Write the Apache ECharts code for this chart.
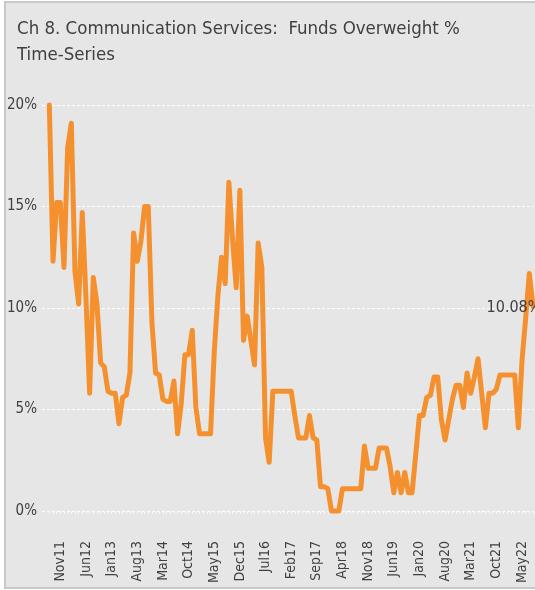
<!DOCTYPE html>
<html>
<head>
<meta charset="utf-8">
<script src="https://cdn.jsdelivr.net/npm/echarts@6/dist/echarts.min.js"></script>
<style>
  html, body { margin: 0; padding: 0; background: #ffffff; }
  #frame {
    position: absolute; left: 4px; top: 1px; width: 540px; height: 584px;
    background: #e6e6e6; border: 2px solid #c8c8c8;
  }
  #chart { position: absolute; left: 0; top: 0; width: 535px; height: 590px; }
</style>
</head>
<body>
<div id="frame"></div>
<div id="chart"></div>
<script>
// Monthly axis, Jun 2011 .. Aug 2022 (first two months are lead-in space before the data)
const monthNames = ['Jan','Feb','Mar','Apr','May','Jun','Jul','Aug','Sep','Oct','Nov','Dec'];
const categories = [];
for (let y = 2011, m = 5; y < 2022 || (y === 2022 && m <= 7); ) {
  categories.push(monthNames[m] + String(y).slice(2));
  m++; if (m === 12) { m = 0; y++; }
}
const leadIn = 2;           // Jun11, Jul11 carry no value
const firstLabel = 'Nov11'; // labels every 7 months from here
const labelStep = 7;

// Funds overweight %, Aug 2011 .. Aug 2022
const overweightPct = [
  20.0, 12.3, 15.2, 15.2, 12.0, 17.9, 19.1, 11.8, 10.2, 14.7,
  10.5, 5.8, 11.5, 10.2, 7.3, 7.1, 5.9, 5.8, 5.8, 4.3,
  5.6, 5.7, 6.8, 13.7, 12.3, 13.3, 15.0, 15.0, 9.3, 6.8,
  6.7, 5.5, 5.4, 5.4, 6.4, 3.8, 5.3, 7.7, 7.7, 8.9,
  5.1, 3.8, 3.8, 3.8, 3.8, 7.8, 10.6, 12.5, 11.2, 16.2,
  13.4, 11.0, 15.8, 8.4, 9.6, 8.4, 7.2, 13.2, 12.0, 3.6,
  2.4, 5.9, 5.9, 5.9, 5.9, 5.9, 5.9, 4.7, 3.6, 3.6,
  3.6, 4.7, 3.6, 3.5, 1.2, 1.2, 1.1, 0.0, 0.0, 0.0,
  1.1, 1.1, 1.1, 1.1, 1.1, 1.1, 3.2, 2.1, 2.1, 2.1,
  3.1, 3.1, 3.1, 2.2, 0.9, 1.9, 0.9, 1.9, 0.9, 0.9,
  2.8, 4.7, 4.7, 5.6, 5.7, 6.6, 6.6, 4.5, 3.5, 4.5,
  5.5, 6.2, 6.2, 5.1, 6.8, 5.8, 6.6, 7.5, 5.8, 4.1,
  5.8, 5.8, 6.0, 6.7, 6.7, 6.7, 6.7, 6.7, 4.1, 7.4,
  9.5, 11.7, 10.08
];

const yTicks = [0, 5, 10, 15, 20];

const FONT = '"Liberation Sans Narrow", "DejaVu Sans Condensed", Roboto, sans-serif';
const TEXT = '#404040';
const ORANGE = '#f4912e';

const firstIdx = categories.indexOf(firstLabel);
const seriesData = categories.map((c, i) => (i < leadIn ? '-' : overweightPct[i - leadIn]));
const lastValue = overweightPct[overweightPct.length - 1];
const lastCategory = categories[categories.length - 1];

const chart = echarts.init(document.getElementById('chart'), null, { renderer: 'canvas' });
chart.setOption({
  animation: false,
  backgroundColor: 'transparent',
  title: {
    text: 'Ch 8. Communication Services:  Funds Overweight %\nTime-Series',
    left: 12,
    top: 11,
    textStyle: {
      color: TEXT,
      fontFamily: FONT,
      fontSize: 18.5,
      fontWeight: 'normal',
      lineHeight: 26
    }
  },
  grid: { left: 42, right: 2, top: 105, bottom: 79, containLabel: false },
  xAxis: {
    type: 'category',
    data: categories,
    boundaryGap: false,
    offset: 22,
    axisLine: { show: false },
    axisTick: {
      show: true,
      length: 3,
      interval: (idx) => idx >= leadIn,
      lineStyle: { color: '#f6f6f6', width: 1 }
    },
    axisLabel: {
      rotate: 90,
      margin: 8,
      interval: (idx) => idx >= firstIdx && (idx - firstIdx) % labelStep === 0,
      color: TEXT,
      fontFamily: FONT,
      fontSize: 14
    },
    splitLine: { show: false }
  },
  yAxis: {
    type: 'value',
    min: yTicks[0],
    max: yTicks[yTicks.length - 1],
    interval: 5,
    axisLine: { show: false },
    axisTick: { show: false },
    axisLabel: {
      margin: 5,
      formatter: '{value}%',
      color: TEXT,
      fontFamily: FONT,
      fontSize: 15
    },
    splitLine: { lineStyle: { color: '#ffffff', type: [3, 2], width: 1 } }
  },
  series: [{
    type: 'line',
    data: seriesData,
    symbol: 'none',
    clip: false,
    connectNulls: false,
    lineStyle: { color: ORANGE, width: 5, join: 'round', cap: 'round' },
    itemStyle: { color: ORANGE },
    markPoint: {
      symbol: 'circle',
      symbolSize: 1,
      itemStyle: { color: 'rgba(0,0,0,0)' },
      silent: true,
      data: [{
        coord: [lastCategory, lastValue],
        value: lastValue,
        label: {
          show: true,
          position: 'inside',
          offset: [-19, 1],
          formatter: () => lastValue.toFixed(2) + '%',
          color: TEXT,
          fontFamily: FONT,
          fontSize: 16
        }
      }]
    }
  }]
});
</script>
</body>
</html>
